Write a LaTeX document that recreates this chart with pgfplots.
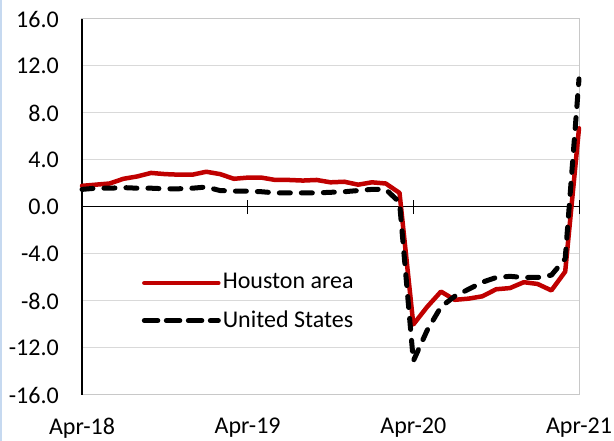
\documentclass[border=0pt]{standalone}
\usepackage{pgfplots}
\pgfplotsset{compat=1.18}
\usepackage{fontspec}
\setmainfont{Carlito}
\definecolor{hou}{HTML}{C00000}
\definecolor{gridc}{HTML}{D9D9D9}
\definecolor{boxc}{HTML}{C8C8C8}
\definecolor{strip}{HTML}{C6D9F0}
\begin{document}
\fontsize{24}{28}\selectfont
\begin{tikzpicture}
\useasboundingbox (-82pt,-46pt) rectangle (532pt,395pt);
\fill[strip] (-82pt,-46pt) rectangle (-79.5pt,395pt);
\begin{axis}[
  scale only axis,
  width=497pt, height=376pt,
  xmin=0, xmax=36, ymin=-16, ymax=16,
  clip=false,
  axis line style={boxc, line width=1pt},
  xtick={0,12,24,36},
  xticklabels={Apr-18,Apr-19,Apr-20,Apr-21},
  ytick={-16,-12,-8,-4,0,4,8,12,16},
  yticklabels={-16.0,-12.0,-8.0,-4.0,0.0,4.0,8.0,12.0,16.0},
  major tick length=0pt,
  ymajorgrids,
  grid style={gridc, line width=1pt},
  tick label style={font=\fontsize{24}{28}\selectfont, black},
  xticklabel style={anchor=north, inner sep=0pt, yshift=-23pt},
  yticklabel style={anchor=east, inner sep=0pt, xshift=-23pt},
  legend style={at={(0.12,0.247)}, anchor=west, draw=none, fill=none,
     inner sep=0pt, row sep=14pt, font=\fontsize{24}{28}\selectfont},
  legend cell align=left,
  legend image code/.code={\path (0pt,0pt) -- (74pt,0pt);\draw[#1] (2.5pt,0pt) -- (70.5pt,0pt);},
]
\draw[black, line width=1.2pt] (axis cs:0,-16) -- (axis cs:0,16);
\draw[black, line width=1pt] (axis cs:0,0) -- (axis cs:36,0);
\draw[black, line width=1pt] (axis cs:12,-0.6) -- (axis cs:12,0.6);
\draw[black, line width=1pt] (axis cs:24,-0.6) -- (axis cs:24,0.6);
\draw[black, line width=1pt] (axis cs:36,-0.6) -- (axis cs:36,0.6);
\addplot[hou, line width=4.5pt, line cap=round, line join=round] coordinates {
(0,1.8)(1,1.9)(2,2.0)(3,2.4)(4,2.6)(5,2.9)(6,2.8)(7,2.75)(8,2.75)(9,3.0)(10,2.8)(11,2.4)
(12,2.5)(13,2.5)(14,2.3)(15,2.3)(16,2.25)(17,2.3)(18,2.1)(19,2.15)(20,1.9)(21,2.1)(22,2.0)(23,1.2)
(24,-10.0)(25,-8.5)(26,-7.2)(27,-7.9)(28,-7.8)(29,-7.6)(30,-7.0)(31,-6.9)(32,-6.4)(33,-6.55)(34,-7.1)(35,-5.5)(36,6.7)
};
\addlegendentry{Houston area}
\addplot[black, line width=5pt, line cap=round, line join=round, dash pattern=on 11pt off 11pt] coordinates {
(0,1.5)(1,1.6)(2,1.6)(3,1.65)(4,1.6)(5,1.6)(6,1.55)(7,1.55)(8,1.6)(9,1.7)(10,1.4)(11,1.35)
(12,1.35)(13,1.3)(14,1.2)(15,1.2)(16,1.2)(17,1.2)(18,1.25)(19,1.3)(20,1.4)(21,1.5)(22,1.5)(23,0.4)
(24,-13.1)(25,-10.5)(26,-8.5)(27,-7.6)(28,-7.0)(29,-6.4)(30,-6.0)(31,-5.9)(32,-6.0)(33,-6.0)(34,-5.8)(35,-4.4)(36,10.9)
};
\addlegendentry{United States}
\end{axis}
\end{tikzpicture}
\end{document}
